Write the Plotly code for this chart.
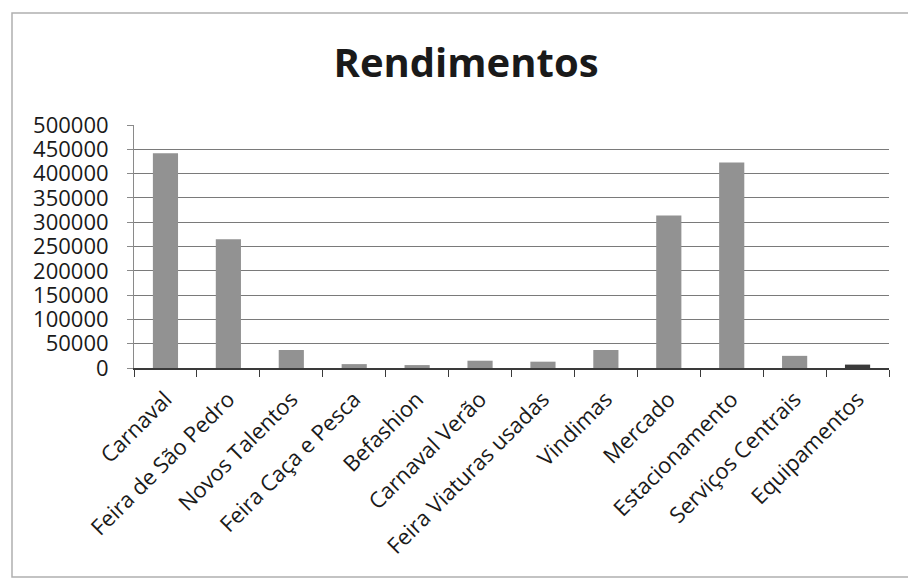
import plotly.graph_objects as go

# Revenue per activity
categories = [
    "Carnaval", "Feira de São Pedro", "Novos Talentos", "Feira Caça e Pesca",
    "Befashion", "Carnaval Verão", "Feira Viaturas usadas", "Vindimas",
    "Mercado", "Estacionamento", "Serviços Centrais", "Equipamentos",
]
rendimentos = [442000, 265000, 37000, 8000, 6000, 15000, 13000, 37000,
               314000, 423000, 25000, 7000]
y_ticks = [0, 50000, 100000, 150000, 200000, 250000, 300000, 350000,
           400000, 450000, 500000]

W, H = 908, 579
L, R, T, B = 134, 19, 125, 211
pw, ph = W - L - R, H - T - B

bar_colors = ["#929292"] * (len(categories) - 1) + ["#3a3a3a"]

fig = go.Figure(
    go.Bar(x=categories, y=rendimentos, marker=dict(color=bar_colors, line=dict(width=0)))
)

font_family = "Open Sans, Lato, sans-serif"

fig.update_layout(
    width=W, height=H,
    margin=dict(l=L, r=R, t=T, b=B),
    paper_bgcolor="white", plot_bgcolor="white",
    bargap=0.6,
    showlegend=False,
    title=dict(text="<b>Rendimentos</b>", x=466 / W, xref="container", xanchor="center",
               y=1 - 63 / H, yref="container", yanchor="middle",
               font=dict(family=font_family, size=40, color="#1a1a1a")),
    font=dict(family=font_family, color="#1a1a1a"),
)

fig.update_yaxes(
    range=[0, 500000], tickvals=y_ticks, ticktext=[str(v) for v in y_ticks],
    showgrid=True, gridcolor="#7a7a7a", gridwidth=1,
    showline=True, linecolor="#8a8a8a", linewidth=1,
    ticks="outside", ticklen=6, tickcolor="#8a8a8a",
    ticklabelstandoff=14,
    tickfont=dict(size=22, family=font_family, color="#1a1a1a"),
    zeroline=False,
)
fig.update_xaxes(
    tickangle=-45, tickson="boundaries",
    showline=True, linecolor="#3a3a3a", linewidth=1.5,
    ticks="outside", ticklen=7, tickcolor="#3a3a3a",
    ticklabelstandoff=8,
    tickfont=dict(size=22, family=font_family, color="#1a1a1a"),
)

# chart frame
def px_x(x):
    return (x - L) / pw

def px_y(y):
    return (H - B - y) / ph

fig.add_shape(type="rect", xref="paper", yref="paper",
              x0=px_x(12), x1=px_x(916), y0=px_y(577), y1=px_y(13),
              line=dict(color="#b0b0b0", width=1.5), fillcolor="rgba(0,0,0,0)", layer="below")

fig.write_html("out.html")
